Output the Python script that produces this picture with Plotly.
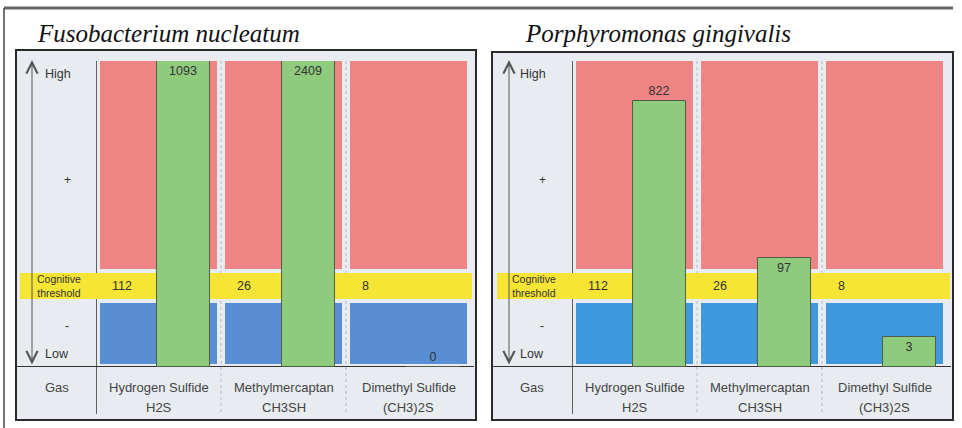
import numpy as np
import plotly.graph_objects as go

# ---- data -------------------------------------------------------------
gases = ["Hydrogen Sulfide", "Methylmercaptan", "Dimethyl Sulfide"]
formulas = ["H2S", "CH3SH", "(CH3)2S"]
thresholds = [112, 26, 8]              # cognitive (odour) threshold per gas
fuso_values = [1093, 2409, 0]          # Fusobacterium nucleatum
porph_values = [822, 97, 3]            # Porphyromonas gingivalis
panel_titles = ["Fusobacterium nucleatum", "Porphyromonas gingivalis"]

# schematic perception scale: concentration / threshold  ->  band level
RATIO_KNOTS = [0, 1, 4, 8.2]
LEVEL_KNOTS = [0, 2.65, 3.65, 10]


def to_level(values):
    ratio = np.asarray(values, float) / np.asarray(thresholds, float)
    return np.interp(ratio, RATIO_KNOTS, LEVEL_KNOTS)


W, H = 962, 428
PX = lambda x: x / W
PY = lambda y: 1 - y / H

RED, YELLOW, GREEN = "#ef8484", "#f6e535", "#8ecb7d"
BLUE_L, BLUE_R = "#5a8ed4", "#3f98dc"
PANEL_BG = "#e8ecf1"
INK = "#333333"
FONT = "Liberation Sans, Arial, sans-serif"

BLUE_BAND = (0.1, 2.09)
YELLOW_BAND = (2.22, 3.07)
RED_BAND = (3.2, 10)

fig = go.Figure()
shapes, annotations = [], []

# outer frame lines
shapes.append(dict(type="line", xref="paper", yref="paper", x0=PX(4), x1=PX(953),
                   y0=PY(8), y1=PY(8), line=dict(color="#666", width=3), layer="below"))
shapes.append(dict(type="line", xref="paper", yref="paper", x0=PX(4), x1=PX(4),
                   y0=PY(8), y1=0, line=dict(color="#444", width=1.5), layer="below"))

panels = [
    dict(xa="x", ya="y", box=(16, 476, 50, 420), arrow_x=32,
         label_cx=57, yellow=(20, 472), title_x=35, blue=BLUE_L, values=fuso_values,
         textpos=["inside", "inside", "outside"]),
    dict(xa="x2", ya="y2", box=(492, 953, 52, 420), arrow_x=509,
         label_cx=532, yellow=(497, 950), title_x=523, blue=BLUE_R, values=porph_values,
         textpos=["outside", "inside", "inside"]),
]

n = len(gases)
xs = list(range(n))


def label(x, y, text, size, color=INK, **kw):
    return dict(xref="paper", yref="paper", x=PX(x), y=PY(y), text=text, showarrow=False,
                xanchor=kw.pop("xanchor", "center"), yanchor="middle",
                font=dict(family=FONT, size=size, color=color), **kw)


for k, p in enumerate(panels):
    xa, ya = p["xa"], p["ya"]
    bx0, bx1, by0, by1 = p["box"]
    # panel box
    shapes.append(dict(type="rect", xref="paper", yref="paper", x0=PX(bx0), x1=PX(bx1),
                       y0=PY(by0), y1=PY(by1), fillcolor=PANEL_BG,
                       line=dict(color="#2a2a2a", width=2), layer="below"))
    # column separators (dotted) and label-column divider
    for i in range(n - 1):
        shapes.append(dict(type="line", xref=xa, yref="paper", x0=i + 0.5, x1=i + 0.5,
                           y0=PY(61), y1=PY(414), line=dict(color="#b5b9be", width=1, dash="dot"),
                           layer="below"))
    shapes.append(dict(type="line", xref=xa, yref="paper", x0=-0.5, x1=-0.5,
                       y0=PY(61), y1=PY(414), line=dict(color="#333", width=1.5), layer="below"))
    # red / blue bands per column
    for i in xs:
        shapes.append(dict(type="rect", xref=xa, yref=ya, x0=i - 0.468, x1=i + 0.468,
                           y0=RED_BAND[0], y1=RED_BAND[1], fillcolor=RED, line_width=0,
                           layer="below"))
        shapes.append(dict(type="rect", xref=xa, yref=ya, x0=i - 0.468, x1=i + 0.468,
                           y0=BLUE_BAND[0], y1=BLUE_BAND[1], fillcolor=p["blue"], line_width=0,
                           layer="below"))
    # threshold band across the whole panel
    shapes.append(dict(type="rect", xref="paper", yref=ya, x0=PX(p["yellow"][0]),
                       x1=PX(p["yellow"][1]), y0=YELLOW_BAND[0], y1=YELLOW_BAND[1],
                       fillcolor=YELLOW, line_width=0, layer="below"))
    # baseline
    shapes.append(dict(type="line", xref="paper", yref=ya, x0=PX(bx0), x1=PX(bx1 - 2),
                       y0=0, y1=0, line=dict(color="#333", width=2), layer="below"))

    # bars
    vals = p["values"]
    fig.add_trace(go.Bar(
        x=xs, y=to_level(vals), xaxis=xa, yaxis=ya,
        width=0.42, offset=-0.01,
        marker=dict(color=GREEN, line=dict(color="#4f5f47", width=1)),
        text=[str(v) for v in vals], textposition=p["textpos"], insidetextanchor="end",
        textangle=0, constraintext="none",
        insidetextfont=dict(family=FONT, size=12.5, color=INK),
        outsidetextfont=dict(family=FONT, size=12.5, color=INK),
        cliponaxis=False, showlegend=False, hoverinfo="skip",
    ))

    # threshold values
    for i, t in enumerate(thresholds):
        annotations.append(dict(xref=xa, yref=ya, x=i - 0.39, y=sum(YELLOW_BAND) / 2,
                                text=str(t), showarrow=False, xanchor="left", yanchor="middle",
                                font=dict(family=FONT, size=12.5, color=INK)))
    # gas names
    for i in xs:
        for text, yy in ((gases[i], 387), (formulas[i], 407)):
            annotations.append(dict(xref=xa, yref="paper", x=i, y=PY(yy), text=text,
                                    showarrow=False, yanchor="middle",
                                    font=dict(family=FONT, size=13, color="#444")))

    # left label column
    cx = p["label_cx"]
    annotations += [
        label(cx + 1, 74, "High", 12.5),
        label(cx + 10, 180, "+", 12),
        label(cx + 2, 286, "Cognitive<br>threshold", 10.5),
        label(cx + 10, 326, "-", 12),
        label(cx, 354, "Low", 12.5),
        label(cx, 387, "Gas", 13, color="#444"),
    ]
    # double-headed level arrow
    annotations.append(dict(xref="paper", yref="paper", x=PX(p["arrow_x"]), y=PY(60),
                            ax=0, ay=306, text="", showarrow=True, arrowside="end+start",
                            arrowhead=5, startarrowhead=5, arrowsize=2.2, startarrowsize=2.2,
                            arrowwidth=1, arrowcolor="#555", standoff=0, startstandoff=0))
    # panel title
    annotations.append(dict(xref="paper", yref="paper", x=PX(p["title_x"]), y=PY(33),
                            xanchor="left", yanchor="middle", text=f"<i>{panel_titles[k]}</i>",
                            showarrow=False,
                            font=dict(family="Liberation Serif, Times New Roman, serif",
                                      size=25, color="#111")))

axis_common = dict(visible=False, fixedrange=True)
fig.update_layout(
    width=W, height=H, margin=dict(l=0, r=0, t=0, b=0),
    paper_bgcolor="white", plot_bgcolor="rgba(0,0,0,0)",
    xaxis=dict(domain=[PX(96), PX(471)], range=[-0.5, 2.5], anchor="y", **axis_common),
    xaxis2=dict(domain=[PX(572), PX(947)], range=[-0.5, 2.5], anchor="y2", **axis_common),
    yaxis=dict(domain=[PY(367), PY(61)], range=[0, 10], anchor="x", **axis_common),
    yaxis2=dict(domain=[PY(367), PY(61)], range=[0, 10], anchor="x2", **axis_common),
    shapes=shapes, annotations=annotations, bargap=0,
)

fig.write_html("out.html")
